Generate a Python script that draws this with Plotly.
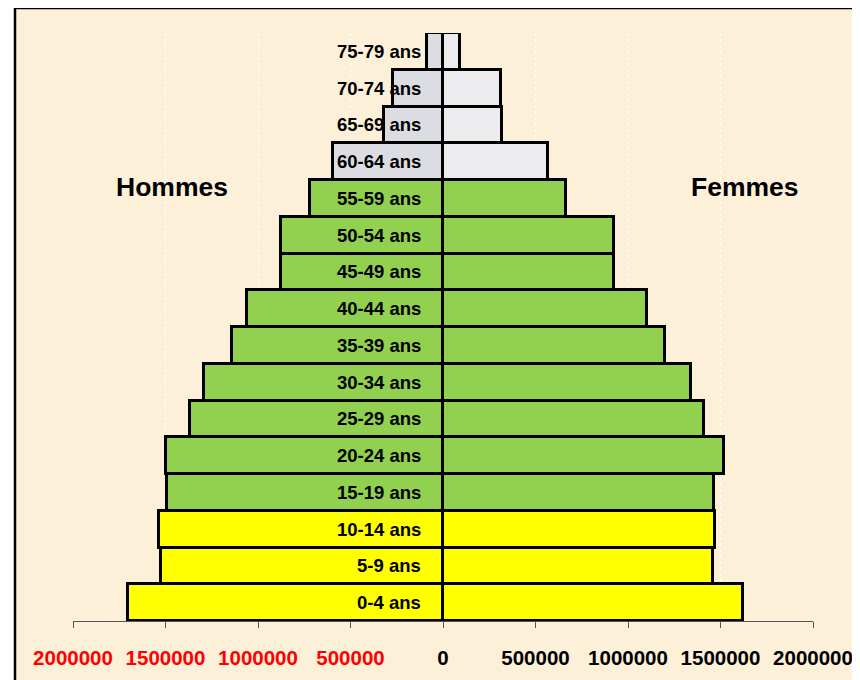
import plotly.graph_objects as go

# age groups, bottom to top
ages = ["0-4 ans", "5-9 ans", "10-14 ans", "15-19 ans", "20-24 ans", "25-29 ans",
        "30-34 ans", "35-39 ans", "40-44 ans", "45-49 ans", "50-54 ans", "55-59 ans",
        "60-64 ans", "65-69 ans", "70-74 ans", "75-79 ans"]
hommes = [1703000, 1526000, 1537000, 1490000, 1499000, 1369000, 1290000, 1138000,
          1059000, 876000, 876000, 717000, 596000, 319000, 270000, 84000]
femmes = [1622000, 1459000, 1472000, 1467000, 1521000, 1413000, 1341000, 1200000,
          1103000, 926000, 923000, 667000, 568000, 319000, 316000, 94000]
tick_vals = [-2000000, -1500000, -1000000, -500000, 0, 500000, 1000000, 1500000, 2000000]
tick_labels = ["2000000", "1500000", "1000000", "500000", "0",
               "500000", "1000000", "1500000", "2000000"]

def couleur(i, gris):
    if i < 3:
        return "#ffff00"
    if i < 12:
        return "#92d050"
    return gris

col_h = [couleur(i, "#dcdde2") for i in range(len(ages))]
col_f = [couleur(i, "#ececee") for i in range(len(ages))]

fig = go.Figure()
fig.add_trace(go.Bar(y=ages, x=[-v for v in hommes], orientation="h",
                     marker=dict(color=col_h, line=dict(color="black", width=3)),
                     name="Hommes", hoverinfo="skip"))
fig.add_trace(go.Bar(y=ages, x=femmes, orientation="h",
                     marker=dict(color=col_f, line=dict(color="black", width=3)),
                     name="Femmes", hoverinfo="skip"))

ticktext = [f'<span style="color:red">{t}</span>' if v < 0 else t
            for v, t in zip(tick_vals, tick_labels)]

# page adds 8px body margin, so the figure sits 8px right/down on screen
fig.update_layout(
    width=860, height=680,
    margin=dict(l=65, r=55, t=25, b=67),
    barmode="overlay", bargap=0,
    showlegend=False,
    paper_bgcolor="white",
    plot_bgcolor="rgba(0,0,0,0)",
    font=dict(family="Liberation Sans, Arial", color="black"),
)
fig.update_xaxes(range=[-2000000, 2000000], tickvals=tick_vals, ticktext=ticktext,
                 tickfont=dict(size=20.5, weight="bold"), ticks="outside", ticklen=6,
                 tickcolor="#555555", showline=True, linecolor="#555555", linewidth=1,
                 showgrid=True, gridcolor="white", griddash="dot", gridwidth=1,
                 zeroline=False, ticklabelstandoff=12, automargin=False, fixedrange=True)
fig.update_yaxes(range=[-0.5, 15.5], showticklabels=False, showgrid=False,
                 zeroline=False, showline=False, automargin=False, fixedrange=True)

# parchment frame behind everything
fig.add_shape(type="rect", xref="paper", yref="paper", x0=-(65 - 7) / 740, x1=1.1,
              y0=-0.15, y1=1 + 25 / 588, fillcolor="#fcf0d9",
              line=dict(color="black", width=2.5), layer="below")

for a in ages:
    fig.add_annotation(x=0, y=a, text=a, showarrow=False, xanchor="right",
                       xshift=-20, font=dict(size=18.5, weight="bold", color="black"))

fig.add_annotation(xref="paper", yref="paper", x=(172 - 73) / 740, y=(621 - 187) / 588,
                   xanchor="center", yanchor="middle", text="Hommes", showarrow=False,
                   font=dict(size=26.5, weight="bold", color="black"))
fig.add_annotation(xref="paper", yref="paper", x=(745 - 73) / 740, y=(621 - 187) / 588,
                   xanchor="center", yanchor="middle", text="Femmes", showarrow=False,
                   font=dict(size=26.5, weight="bold", color="black"))

fig.write_html("out.html")
